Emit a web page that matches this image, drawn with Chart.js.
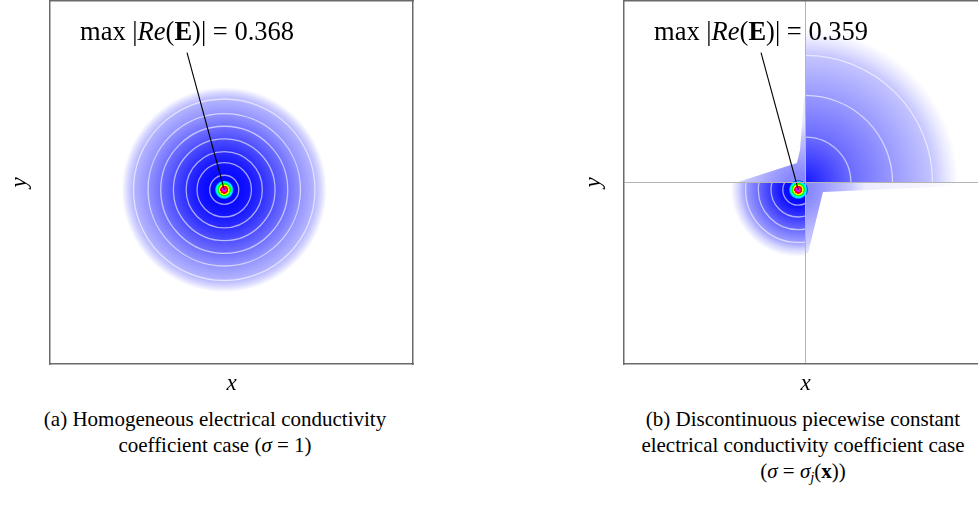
<!DOCTYPE html>
<html><head><meta charset="utf-8">
<script src="https://cdn.jsdelivr.net/npm/chart.js@4.4.1/dist/chart.umd.min.js"></script>
<style>
html,body{margin:0;padding:0;background:#fff;width:978px;height:507px;overflow:hidden;position:relative;font-family:'Liberation Serif','Times New Roman',serif;}
.wrap{position:absolute;top:0;}
#wa{left:0;}
#wb{left:560px;}
.cap{position:absolute;font-size:21px;line-height:26px;text-align:center;color:#000;white-space:nowrap;}
.cap sub{font-size:70%;line-height:0;vertical-align:-0.25em;}
</style></head><body>
<div class="wrap" id="wa"><canvas id="ca" width="440" height="400"></canvas></div>
<div class="wrap" id="wb"><canvas id="cb" width="440" height="400"></canvas></div>
<div class="cap" style="left:0;width:430px;top:406px">(a) Homogeneous electrical conductivity<br>coefficient case (<i>σ</i> = 1)</div>
<div class="cap" style="left:588px;width:430px;top:406px">(b) Discontinuous piecewise constant<br>electrical conductivity coefficient case<br>(<i>σ</i> = <i>σ<sub>j</sub></i>(<b>x</b>))</div>
<script>
// ---------- data ----------
const axisRange = [-1, 1];
const sourcePoint = { x: -0.04, y: -0.04 };
const labelAnchor = { x: -0.245, y: 0.715 };
const labelBaseline = 0.785;
const maxValueA = '0.368';
const maxValueB = '0.359';
const gridValuesA = [];
const gridValuesB = [0];

// hot spot contour band radii (data units) around the source
const hotspotRadii = [0, 0.012, 0.014, 0.021, 0.023, 0.028, 0.030, 0.036, 0.038, 0.045, 0.053];
// field magnitude levels (0 = zero field, 1 = saturated blue) along radius
const blobA_r     = [0, 0.08, 0.15, 0.21, 0.28, 0.35, 0.42, 0.50, 0.535, 0.565];
const blobA_level = [1.0, 0.97, 0.91, 0.82, 0.69, 0.56, 0.42, 0.29, 0.15, 0];
const ringsA      = [0.08, 0.15, 0.21, 0.28, 0.35, 0.42, 0.50];

const blobUR_r     = [0, 0.25, 0.48, 0.70, 0.78, 0.84];
const blobUR_level = [0.9, 0.58, 0.4, 0.23, 0.09, 0];
const ringsUR      = [0.25, 0.48, 0.70];

const blobLL_r     = [0, 0.085, 0.15, 0.22, 0.29, 0.33, 0.37];
const blobLL_level = [1, 0.94, 0.78, 0.58, 0.38, 0.17, 0];
const ringsLL      = [0.085, 0.15, 0.22, 0.29];

// sub-domain shapes (data units)
const quadUR = [[0,0],[1,0],[1,1],[0,1]];
const quadLL = [[0,0],[0,-1],[-1,-1],[-1,0]];
const wedgeUL = [[0,0],[-0.38,0],[-0.047,0.107],[-0.03,0.18],[-0.008,0.47],[0,0.47]];
const wedgeLR = [[0,0],[1,0],[1,-0.012],[0.096,-0.052],[0.014,-0.39],[0,-0.39]];

// ---------- styles ----------
const hotspotColors = ['#ff00ff','#ff00ff','#ff0000','#ff0000','#ffff00','#ffff00','#00ff00','#00ff00','#00ffff','#00e0ff','#0000ff'];
const serif = "'Liberation Serif','Times New Roman',serif";
const blueOf = (L, a) => { const v = Math.round(255 * (1 - L)); return `rgba(${v},${v},255,${a===undefined?1:a})`; };

const fieldPlugin = {
  id: 'field',
  beforeDatasetsDraw(chart, args, opts) {
    const { ctx, chartArea: a } = chart;
    const xs = chart.scales.x, ys = chart.scales.y;
    const P = (x, y) => [xs.getPixelForValue(x), ys.getPixelForValue(y)];
    const R = r => Math.abs(xs.getPixelForValue(r) - xs.getPixelForValue(0));
    ctx.save();
    ctx.beginPath(); ctx.rect(a.left, a.top, a.right - a.left, a.bottom - a.top); ctx.clip();
    for (const layer of opts.layers) {
      ctx.save();
      if (layer.clip) {
        ctx.beginPath();
        layer.clip.forEach(([x, y], i) => { const [X, Y] = P(x, y); i ? ctx.lineTo(X, Y) : ctx.moveTo(X, Y); });
        ctx.closePath(); ctx.clip();
      }
      const [cx, cy] = P(layer.center.x, layer.center.y);
      const rs = layer.radii;
      const Rmax = R(rs[rs.length - 1]);
      const g = ctx.createRadialGradient(cx, cy, 0, cx, cy, Rmax);
      rs.forEach((r, i) => g.addColorStop(Math.min(1, R(r) / Rmax), layer.colors[i]));
      ctx.globalAlpha = layer.alpha === undefined ? 1 : layer.alpha;
      ctx.globalCompositeOperation = layer.hot ? 'source-over' : 'darken';
      ctx.fillStyle = g;
      ctx.beginPath(); ctx.arc(cx, cy, Rmax, 0, Math.PI * 2); ctx.fill();
      if (layer.rings) {
        ctx.globalCompositeOperation = 'source-over';
        ctx.globalAlpha = 1;
        ctx.strokeStyle = 'rgba(255,255,255,0.6)';
        ctx.lineWidth = 1.3;
        layer.rings.forEach(r => { ctx.beginPath(); ctx.arc(cx, cy, R(r), 0, Math.PI * 2); ctx.stroke(); });
      }
      ctx.restore();
    }
    ctx.restore();
  },
  afterDraw(chart, args, opts) {
    const { ctx } = chart;
    const xs = chart.scales.x, ys = chart.scales.y;
    const size = 26.5;
    const segs = [['max |', 'normal', 'normal'], ['Re', 'italic', 'normal'], ['(', 'normal', 'normal'], ['E', 'normal', 'bold'], [')| = ' + opts.value, 'normal', 'normal']];
    ctx.save();
    ctx.fillStyle = '#000';
    ctx.textBaseline = 'alphabetic';
    let total = 0;
    const widths = segs.map(([t, st, w]) => { ctx.font = `${st} ${w} ${size}px ${serif}`; const m = ctx.measureText(t).width; total += m; return m; });
    let x = xs.getPixelForValue(labelAnchor.x) - total / 2;
    const y = ys.getPixelForValue(labelBaseline);
    segs.forEach(([t, st, w], i) => { ctx.font = `${st} ${w} ${size}px ${serif}`; ctx.fillText(t, x, y); x += widths[i]; });
    ctx.restore();
  }
};

function blobLayer(center, radii, levels, rings, clip, alpha) {
  return { center, radii, colors: levels.map(L => blueOf(L)), rings, clip, alpha };
}
const hotLayer = { center: sourcePoint, radii: hotspotRadii, colors: hotspotColors, hot: true };

function makeChart(id, gridValues, layers, value, pad) {
  const borderCfg = { display: true, color: '#6a6a6a', width: 1.5, z: 1 };
  const titleFont = { family: serif, size: 23, style: 'italic', lineHeight: 1 };
  const hidden = { display: false };
  return new Chart(document.getElementById(id), {
    type: 'scatter',
    data: {
      datasets: [{
        type: 'line',
        data: [labelAnchor, sourcePoint],
        showLine: true, pointRadius: 0, borderColor: '#000', borderWidth: 1.1, fill: false
      }]
    },
    options: {
      responsive: false, animation: false, devicePixelRatio: 1,
      layout: { padding: pad },
      plugins: { legend: hidden, tooltip: { enabled: false }, title: hidden, field: { layers, value } },
      scales: {
        x: {
          type: 'linear', position: 'bottom', min: axisRange[0], max: axisRange[1],
          ticks: { display: false },
          afterBuildTicks: s => { s.ticks = gridValues.map(v => ({ value: v })); },
          grid: { display: gridValues.length > 0, drawTicks: false, color: '#b4b4b4', lineWidth: 1, z: 1 },
          border: borderCfg,
          title: { display: true, text: 'x', color: '#000', font: titleFont, padding: { top: 8, bottom: 0 } }
        },
        y: {
          type: 'linear', position: 'left', min: axisRange[0], max: axisRange[1],
          ticks: { display: false },
          afterBuildTicks: s => { s.ticks = gridValues.map(v => ({ value: v })); },
          grid: { display: gridValues.length > 0, drawTicks: false, color: '#b4b4b4', lineWidth: 1, z: 1 },
          border: borderCfg,
          title: { display: true, text: 'y', color: '#000', font: titleFont, padding: { top: 0, bottom: 19 } }
        },
        x2: {
          type: 'linear', position: 'top', min: axisRange[0], max: axisRange[1],
          ticks: { display: false }, grid: { display: false, drawTicks: false }, border: borderCfg
        },
        y2: {
          type: 'linear', position: 'right', min: axisRange[0], max: axisRange[1],
          ticks: { display: false }, grid: { display: false, drawTicks: false }, border: borderCfg
        }
      }
    },
    plugins: [fieldPlugin]
  });
}

const layersA = [
  blobLayer(sourcePoint, blobA_r, blobA_level, ringsA, null, 1),
  hotLayer
];
const layersB = [
  blobLayer({ x: 0, y: 0 }, blobUR_r, blobUR_level, ringsUR, quadUR, 1),
  blobLayer(sourcePoint, blobLL_r, blobLL_level, ringsLL, quadLL, 1),
  blobLayer(sourcePoint, blobLL_r, blobLL_level, null, wedgeUL, 0.4),
  blobLayer(sourcePoint, blobLL_r, blobLL_level, null, wedgeLR, 0.4),
  blobLayer({ x: 0, y: 0 }, blobUR_r, blobUR_level, null, wedgeUL, 0.18),
  blobLayer({ x: 0, y: 0 }, blobUR_r, blobUR_level, null, wedgeLR, 0.15),
  hotLayer
];

makeChart('ca', gridValuesA, layersA, maxValueA, { left: 8, right: 27, top: 1, bottom: 5 });
makeChart('cb', gridValuesB, layersB, maxValueB, { left: 22, right: 13, top: 1, bottom: 5 });
</script>
</body></html>
